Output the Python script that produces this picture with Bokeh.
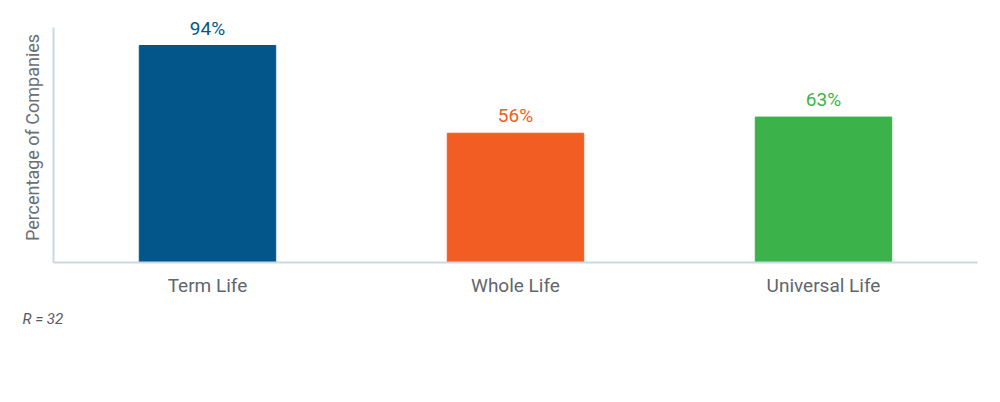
from bokeh.plotting import figure
from bokeh.models import ColumnDataSource, FactorRange, Range1d, FixedTicker, Title
from bokeh.core.properties import value
from bokeh.embed import file_html
from bokeh.resources import INLINE

categories = ["Term Life", "Whole Life", "Universal Life"]
percentages = [94, 56, 63]
labels = ["94%", "56%", "63%"]
colors = ["#03568a", "#f15d22", "#3bb34a"]
note = "R = 32"

FONT = "Roboto"

src = ColumnDataSource(dict(cat=categories, val=percentages, lab=labels, col=colors))

p = figure(x_range=FactorRange(*categories, range_padding=0), y_range=Range1d(0, 108.3),
           width=990, height=394, output_backend="svg", toolbar_location=None,
           min_border_left=53, min_border_right=13, min_border_top=12, min_border_bottom=132)
p.outline_line_color = None
p.xgrid.grid_line_color = None
p.ygrid.grid_line_color = None
p.background_fill_color = "white"
p.border_fill_color = "white"

p.vbar(x="cat", top="val", width=0.443, color="col", source=src)
p.text(x="cat", y="val", text="lab", text_color="col", source=src,
       text_align="center", text_baseline="bottom", y_offset=-6,
       text_font=value(FONT), text_font_size="19px")

axis_col = "#c9d8e3"
p.xaxis.axis_line_color = axis_col
p.xaxis.axis_line_width = 2
p.xaxis.major_tick_line_color = None
p.xaxis.minor_tick_line_color = None
p.xaxis.major_label_text_font = FONT
p.xaxis.major_label_text_font_size = "19px"
p.xaxis.major_label_text_color = "#61666b"
p.xaxis.major_label_standoff = 5

p.yaxis.ticker = FixedTicker(ticks=[])
p.yaxis.bounds = (0, 102)
p.yaxis.axis_line_color = axis_col
p.yaxis.axis_line_width = 2
p.yaxis.major_tick_line_color = None
p.yaxis.minor_tick_line_color = None
p.yaxis.major_tick_out = 0
p.yaxis.major_label_text_font_size = "0px"
p.yaxis.axis_label = "Percentage of Companies"
p.yaxis.axis_label_text_font = FONT
p.yaxis.axis_label_text_font_size = "18px"
p.yaxis.axis_label_text_font_style = "normal"
p.yaxis.axis_label_text_color = "#6b7075"
p.yaxis.axis_label_standoff = 11

p.add_layout(Title(text=note, align="left", offset=-31, standoff=17,
                   text_font=FONT, text_font_size="15px", text_font_style="italic",
                   text_color="#555a5e"), "below")

open("out.html", "w").write(file_html(p, INLINE))
